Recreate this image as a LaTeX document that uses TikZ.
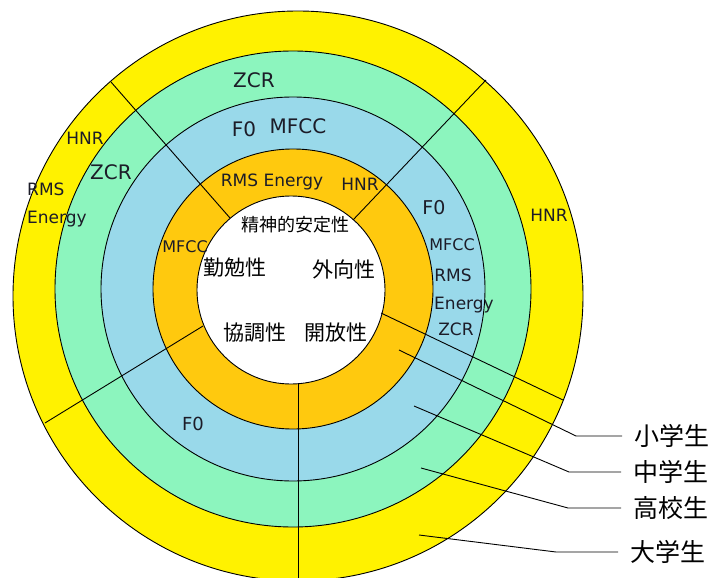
\documentclass[tikz,border=0pt]{standalone}
\usepackage{fontspec}
\setmainfont{DejaVu Sans}
\newfontfamily\jpfont{Noto Sans CJK JP}
\definecolor{ylw}{RGB}{255,242,0}
\definecolor{grn}{RGB}{140,245,190}
\definecolor{blu}{RGB}{153,217,234}
\definecolor{org}{RGB}{255,201,14}
\definecolor{txt}{RGB}{28,28,40}
\tikzset{
  ring/.style={draw=black, line width=0.9pt},
  div/.style={draw=black, line width=0.9pt},
  lab/.style={text=txt, inner sep=0pt, text height=12pt, text depth=0pt, font=\fontsize{17}{17}\selectfont},
  labs/.style={text=txt, inner sep=0pt, text height=11.5pt, text depth=0pt, font=\fontsize{16}{16}\selectfont},
  big/.style={text=txt, inner sep=0pt, text height=14pt, text depth=0pt, font=\fontsize{20}{20}\selectfont},
  jpin/.style={text=black, inner sep=0pt, font=\jpfont\fontsize{21}{21}\selectfont},
  grade/.style={text=black, anchor=west, inner xsep=12pt, inner ysep=0pt, font=\jpfont\fontsize{25}{25}\selectfont},
}
\begin{document}
\begin{tikzpicture}[x=1pt,y=-1pt]
\useasboundingbox (0,0) rectangle (716,578);
% rings
\path[ring, fill=ylw] (298,296) circle[radius=285pt];
\path[ring, fill=grn] (293,289) circle[radius=238pt];
\path[ring, fill=blu] (293,289) circle[radius=192pt];
\path[ring, fill=org] (293,289) circle[radius=140pt];
\path[ring, fill=white] (291,290) circle[radius=94pt];
% divider lines
\coordinate (d1a) at (230,218); \coordinate (d1b) at (111,82);
\coordinate (d2a) at (353,220); \coordinate (d2b) at (486,80);
\coordinate (d3a) at (203,326); \coordinate (d3b) at (45,423);
\coordinate (d4a) at (298,384); \coordinate (d4b) at (298,580);
\coordinate (d5a) at (381,313); \coordinate (d5b) at (563,400);
\draw[div] (d1a) -- (d1b);
\draw[div] (d2a) -- (d2b);
\draw[div] (d3a) -- (d3b);
\draw[div] (d4a) -- (d4b);
\draw[div] (d5a) -- (d5b);
% ring labels
\node[big] (zcrT) at (254,81) {ZCR};
\node[big] (f0T) at (244,130) {F0};
\node[big] (mfccT) at (298,127) {MFCC};
\node[lab] (hnrL) at (85,139) {HNR};
\node[big] (zcrL) at (111,172) {ZCR};
\node[lab, anchor=west] (rmsL) at (27,189) {RMS};
\node[lab, anchor=west] (enL) at (27,217) {Energy};
\node[lab] (rmsO) at (272,180) {RMS Energy};
\node[lab] (hnrO) at (360,184) {HNR};
\node[labs] (mfccO) at (185,247) {MFCC};
\node[lab, font=\fontsize{19}{19}\selectfont, text height=13.5pt] (f0R) at (434,208) {F0};
\node[labs] (mfccR) at (452,245) {MFCC};
\node[lab] (rmsR) at (453,275) {RMS};
\node[lab] (enR) at (464,303) {Energy};
\node[lab] (zcrR) at (456,329) {ZCR};
\node[lab] (hnrR) at (549,215) {HNR};
\node[lab, font=\fontsize{18}{18}\selectfont, text height=13pt] (f0B) at (193,424) {F0};
% inner traits
\node[jpin, font=\jpfont\fontsize{18}{18}\selectfont] (t1) at (295,225) {精神的安定性};
\node[jpin] (t2) at (235,268) {勤勉性};
\node[jpin] (t3) at (344,269) {外向性};
\node[jpin] (t4) at (255,333) {協調性};
\node[jpin] (t5) at (336,333) {開放性};
% grade labels
\node[grade] (g1) at (622,436) {小学生};
\node[grade] (g2) at (621,472) {中学生};
\node[grade] (g3) at (621,508) {高校生};
\node[grade] (g4) at (618,552) {大学生};
\coordinate (s1) at (399,350); \coordinate (b1) at (576,436);
\coordinate (s2) at (414,406); \coordinate (b2) at (569,472);
\coordinate (s3) at (421,468); \coordinate (b3) at (568,508);
\coordinate (s4) at (419,535); \coordinate (b4) at (556,552);
\draw[div] (s1) -- (b1) -- (g1.west);
\draw[div] (s2) -- (b2) -- (g2.west);
\draw[div] (s3) -- (b3) -- (g3.west);
\draw[div] (s4) -- (b4) -- (g4.west);
\end{tikzpicture}
\end{document}
